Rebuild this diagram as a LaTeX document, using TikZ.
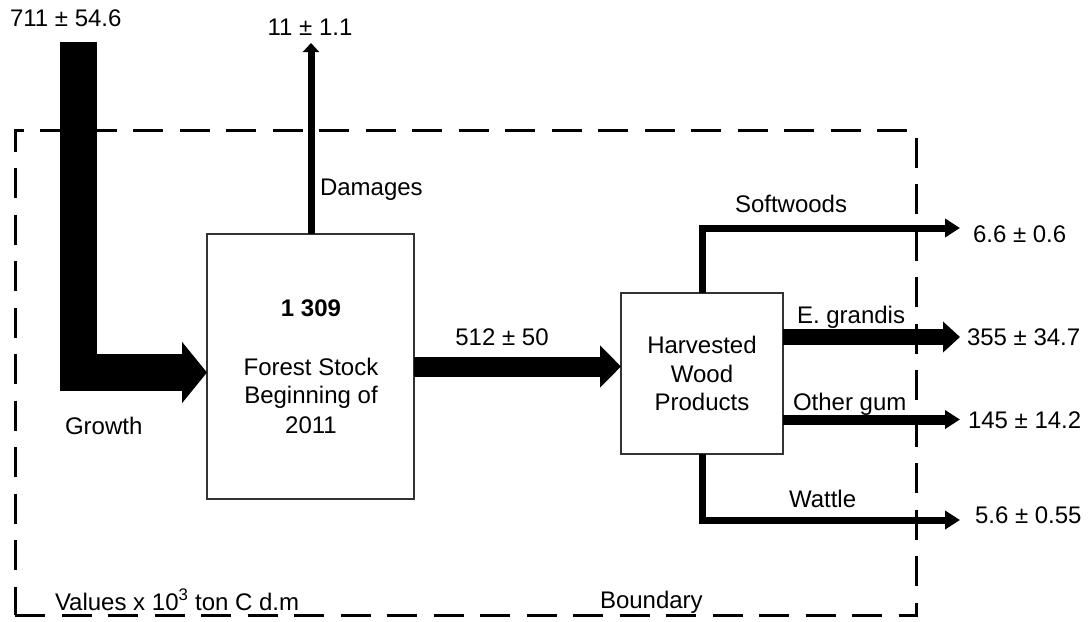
\documentclass[tikz,border=0pt]{standalone}
\usepackage{fontspec}
\setmainfont{Liberation Sans}
\usetikzlibrary{arrows.meta}
\begin{document}
\begin{tikzpicture}[x=1pt,y=-1pt,
  every node/.style={font=\fontsize{24}{29}\selectfont, inner sep=0pt, outer sep=0pt},
  lbl/.style={anchor=base west},
  clbl/.style={anchor=base},
  stockbox/.style={draw=black!80, line width=1.2pt, fill=white},
  boundary/.style={line width=3pt, dash pattern=on 30pt off 16.5pt},
  flow/.style={line width=#1, line join=miter},
  thinflow/.style={flow=7pt, -{Triangle[length=15pt 0 0, width=18pt 0 0]}}
]
\useasboundingbox (0,0) rectangle (1089,621);

% system boundary
\draw[boundary] (15,615) -- (916,615) -- (916,130) -- (15,130) -- (15,615);

% stock boxes
\node[stockbox, minimum width=207pt, minimum height=265pt] (forest) at (310.5,366.5) {};
\node[stockbox, minimum width=162pt, minimum height=161pt] (hwp) at (702,373.5) {};

% flow end points
\coordinate (gtop) at (78,42);
\coordinate (gbend) at (78,372.5);
\coordinate (dmg) at (311,43);
\coordinate (sw) at (960,228);
\coordinate (eg) at (960,337);
\coordinate (og) at (960,419.5);
\coordinate (wt) at (960,520);

% growth into the forest stock
\draw[flow=37pt, -{Triangle[length=25pt 0 0, width=60pt 0 0]}] (gtop) -- (gbend) -- (gbend -| forest.west);
% damages out of the forest stock
\draw[flow=7pt, -{Triangle[length=9pt 0 0, width=16pt 0 0]}] (forest.north -| dmg) -- (dmg);
% harvest into wood products
\draw[flow=20pt, -{Triangle[length=21pt 0 0, width=41pt 0 0]}] (forest.east) -- (forest.east -| hwp.west);
% product streams
\draw[thinflow] (hwp.north) |- (sw);
\draw[flow=16pt, -{Triangle[length=17pt 0 0, width=30pt 0 0]}] (hwp.east |- eg) -- (eg);
\draw[flow=10pt, -{Triangle[length=15pt 0 0, width=18pt 0 0]}] (hwp.east |- og) -- (og);
\draw[thinflow] (hwp.south) |- (wt);

% labels
\node[lbl] (tin) at (10,27) {711 ± 54.6};
\node[clbl] (tdmg) at (310,35) {11 ± 1.1};
\node[lbl] (ldmg) at (320,195) {Damages};
\node[lbl] (lgrowth) at (65,434) {Growth};
\node[clbl] (stock) at (311,316) {\bfseries 1 309};
\node[clbl] (fs1) at (311,375) {Forest Stock};
\node[clbl] (fs2) at (311,403) {Beginning of};
\node[clbl] (fs3) at (311,433) {2011};
\node[clbl] (tharv) at (502,345) {512 ± 50};
\node[clbl] (h1) at (702,353) {Harvested};
\node[clbl] (h2) at (702,382) {Wood};
\node[clbl] (h3) at (702,410) {Products};
\node[lbl] (lsw) at (735,212) {Softwoods};
\node[lbl] (leg) at (797,323) {E. grandis};
\node[lbl] (log) at (793,410) {Other gum};
\node[lbl] (lwt) at (789,507) {Wattle};
\node[lbl] (tsw) at (973,242) {6.6 ± 0.6};
\node[lbl] (teg) at (967,345) {355 ± 34.7};
\node[lbl] (tog) at (968,428) {145 ± 14.2};
\node[lbl] (twt) at (975,523) {5.6 ± 0.55};
\node[lbl] (units) at (55,610) {Values x 10\textsuperscript{3} ton C d.m};
\node[lbl] (lbound) at (600,608) {Boundary};
\end{tikzpicture}
\end{document}
